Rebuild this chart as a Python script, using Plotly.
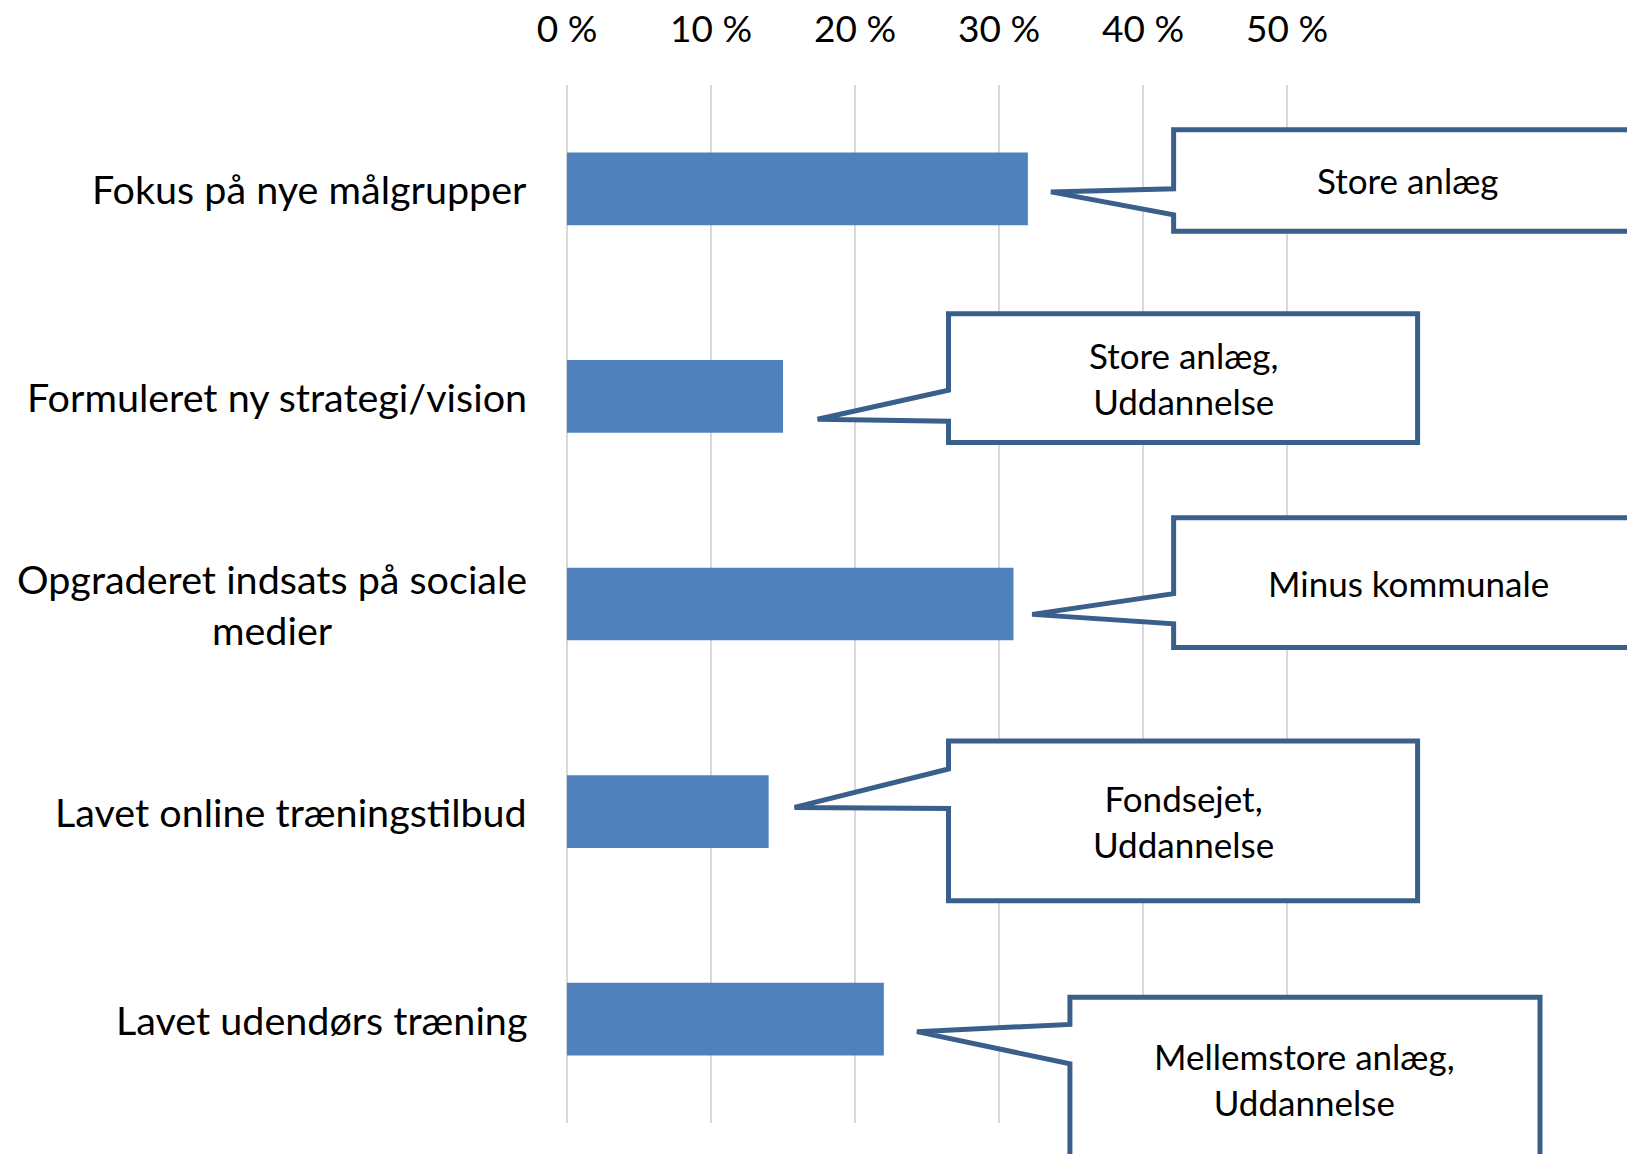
import plotly.graph_objects as go

# Data
categories = [
    "Fokus på nye målgrupper",
    "Formuleret ny strategi/vision",
    "Opgraderet indsats på sociale<br>medier",
    "Lavet online træningstilbud",
    "Lavet udendørs træning",
]
shares = [0.32, 0.15, 0.31, 0.14, 0.22]
callout_texts = [
    "Store anlæg",
    "Store anlæg,<br>Uddannelse",
    "Minus kommunale",
    "Fondsejet,<br>Uddannelse",
    "Mellemstore anlæg,<br>Uddannelse",
]
tick_vals = [0, 0.1, 0.2, 0.3, 0.4, 0.5]
tick_text = ["0 %", "10 %", "20 %", "30 %", "40 %", "50 %"]

BAR_COLOR = "#4F81BD"
LINE_COLOR = "#3A5F8B"
GRID_COLOR = "#D9D9D9"
FONT = "Lato"

# callout geometry: box x0/x1 (axis units), box top/bottom, tail bases and tip
# (offsets in category bands from the bar centre), tip x offset from bar end
callout_geom = [
    dict(x0=0.4212, x1=0.76, top=-0.285, bot=0.205, b1=0.0, b2=0.125, tipdx=0.016, tipdy=0.015),
    dict(x0=0.2649, x1=0.5906, top=-0.398, bot=0.222, b1=-0.030, b2=0.120, tipdx=0.024, tipdy=0.110),
    dict(x0=0.4212, x1=0.76, top=-0.415, bot=0.210, b1=-0.050, b2=0.095, tipdx=0.013, tipdy=0.050),
    dict(x0=0.2649, x1=0.5906, top=-0.340, bot=0.430, b1=-0.205, b2=-0.015, tipdx=0.018, tipdy=-0.020),
    dict(x0=0.3492, x1=0.6756, top=-0.106, bot=0.700, b1=0.025, b2=0.215, tipdx=0.023, tipdy=0.060),
]
text_mid = [-0.04, -0.088, -0.102, 0.045, 0.287]

n = len(categories)


def ydom(i, off):
    # category band position -> y domain fraction (reversed axis)
    return 1 - (i + 0.5 + off) / n


fig = go.Figure()
fig.add_trace(go.Bar(
    x=shares, y=categories, orientation="h",
    marker=dict(color=BAR_COLOR, line=dict(width=0)),
    width=0.35, hoverinfo="skip",
))

shapes = []
annotations = []
for i, (cat, val, txt, g) in enumerate(zip(categories, shares, callout_texts, callout_geom)):
    tipx = val + g["tipdx"]
    pts = [
        (g["x0"], ydom(i, g["top"])),
        (g["x1"], ydom(i, g["top"])),
        (g["x1"], ydom(i, g["bot"])),
        (g["x0"], ydom(i, g["bot"])),
        (g["x0"], ydom(i, g["b2"])),
        (tipx, ydom(i, g["tipdy"])),
        (g["x0"], ydom(i, g["b1"])),
    ]
    path = "M " + " L ".join(f"{x},{y}" for x, y in pts) + " Z"
    shapes.append(dict(
        type="path", path=path, xref="x", yref="y domain",
        fillcolor="white", line=dict(color=LINE_COLOR, width=5), layer="above",
    ))
    annotations.append(dict(
        x=(g["x0"] + min(g["x1"], 0.747)) / 2, y=ydom(i, text_mid[i]),
        xref="x", yref="y domain", xanchor="center", yanchor="middle",
        text=txt, showarrow=False, align="center",
        font=dict(family=FONT, size=35, color="black"),
    ))
    # category label, centred lines like the original
    annotations.append(dict(
        x=0, y=cat, xref="paper", yref="y", xanchor="right", yanchor="middle",
        xshift=-38, text=cat, showarrow=False, align="center",
        font=dict(family=FONT, size=39.5, color="black"),
    ))

fig.update_layout(
    width=1627, height=1154,
    margin=dict(l=567, r=0, t=85, b=31),
    paper_bgcolor="white", plot_bgcolor="white",
    showlegend=False,
    shapes=shapes, annotations=annotations,
    font=dict(family=FONT, color="black"),
)
fig.update_xaxes(
    side="top", range=[0, 0.736], tickvals=tick_vals, ticktext=tick_text,
    showgrid=True, gridcolor=GRID_COLOR, gridwidth=1.5,
    zeroline=True, zerolinecolor=GRID_COLOR, zerolinewidth=1.5,
    showline=False, ticks="", ticklabelstandoff=35,
    tickfont=dict(family=FONT, size=37, color="black"),
)
fig.update_yaxes(
    categoryorder="array", categoryarray=categories, autorange="reversed",
    showticklabels=False, showgrid=False, zeroline=False, showline=False,
)

# drop the browser's default body margin so the figure fills the window exactly
fig.write_html(
    "out.html",
    config={"displayModeBar": False},
    post_script="document.body.style.margin='0';document.body.style.overflow='hidden';",
)
